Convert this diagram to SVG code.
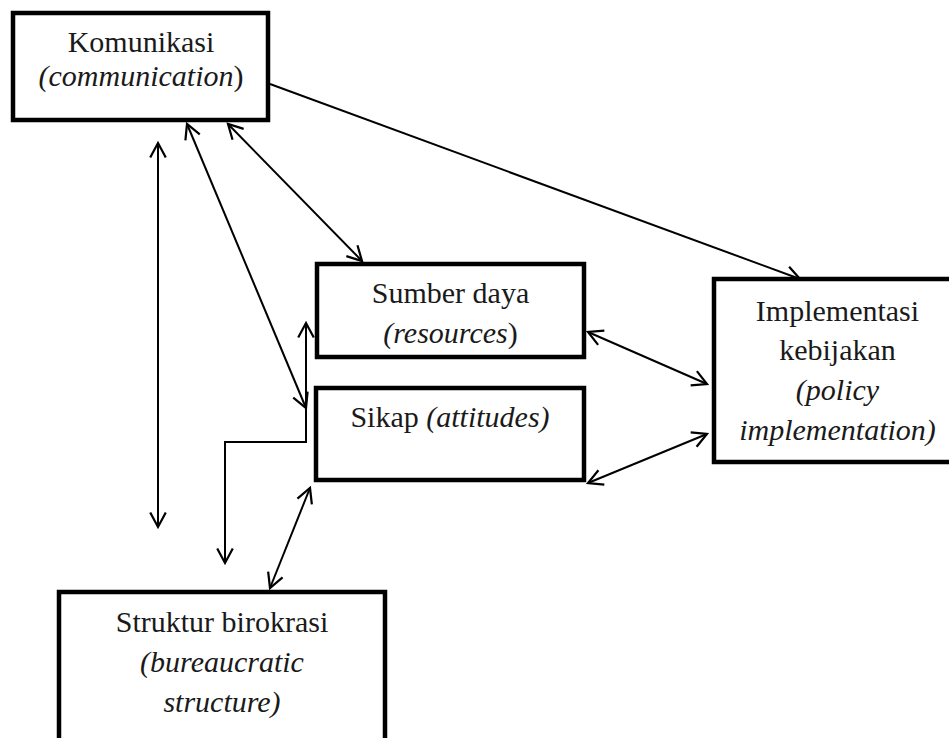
<svg xmlns="http://www.w3.org/2000/svg" width="949" height="738" viewBox="0 0 949 738">
<style>
.box{fill:#fff;stroke:#000;stroke-width:4.5}
.t{font-family:'Liberation Serif','Times New Roman',serif;font-size:30px;fill:#1a1a1a;text-anchor:middle}
.i{font-style:italic}
.c{fill:none;stroke:#000;stroke-width:2}
</style>
<defs>
<marker id="ah" markerUnits="userSpaceOnUse" markerWidth="20" markerHeight="20" viewBox="-14 -9 16 18" refX="0" refY="0" orient="auto-start-reverse">
<path d="M-13,-7 L0,0 L-13,7" fill="none" stroke="#000" stroke-width="2"/>
</marker>
</defs>
<rect width="949" height="738" fill="#fff"/>
<g id="connectors">
<line class="c" x1="270" y1="84" x2="800" y2="279" marker-end="url(#ah)"/>
<line class="c" x1="228" y1="124" x2="362" y2="261" marker-start="url(#ah)" marker-end="url(#ah)"/>
<line class="c" x1="187" y1="124" x2="306" y2="408" marker-start="url(#ah)" marker-end="url(#ah)"/>
<line class="c" x1="158" y1="143" x2="158" y2="527" marker-start="url(#ah)" marker-end="url(#ah)"/>
<polyline class="c" points="306,323 306,442 225,442 225,563" marker-start="url(#ah)" marker-end="url(#ah)"/>
<line class="c" x1="310" y1="488" x2="270" y2="588" marker-start="url(#ah)" marker-end="url(#ah)"/>
<line class="c" x1="588" y1="332" x2="707" y2="384" marker-start="url(#ah)" marker-end="url(#ah)"/>
<line class="c" x1="588" y1="483" x2="707" y2="434" marker-start="url(#ah)" marker-end="url(#ah)"/>
</g>
<g id="komunikasi">
<rect class="box" x="13" y="13" width="255" height="107"/>
<text class="t" x="141" y="52">Komunikasi</text>
<text class="t" x="141" y="86"><tspan class="i">(communication</tspan>)</text>
</g>
<g id="sumber-daya">
<rect class="box" x="317" y="264" width="267" height="93"/>
<text class="t" x="450.5" y="303">Sumber daya</text>
<text class="t" x="450.5" y="343"><tspan class="i">(resources</tspan>)</text>
</g>
<g id="sikap">
<rect class="box" x="316" y="388" width="268" height="92"/>
<text class="t" x="450" y="427">Sikap <tspan class="i">(attitudes)</tspan></text>
</g>
<g id="implementasi">
<rect class="box" x="714" y="279" width="240" height="183"/>
<text class="t" x="837.5" y="321">Implementasi</text>
<text class="t" x="837.5" y="360">kebijakan</text>
<text class="t i" x="837.5" y="400">(policy</text>
<text class="t i" x="837.5" y="440">implementation)</text>
</g>
<g id="struktur">
<rect class="box" x="59" y="592" width="326" height="200"/>
<text class="t" x="222" y="632">Struktur birokrasi</text>
<text class="t i" x="222" y="672">(bureaucratic</text>
<text class="t i" x="222" y="712">structure)</text>
</g>
</svg>
